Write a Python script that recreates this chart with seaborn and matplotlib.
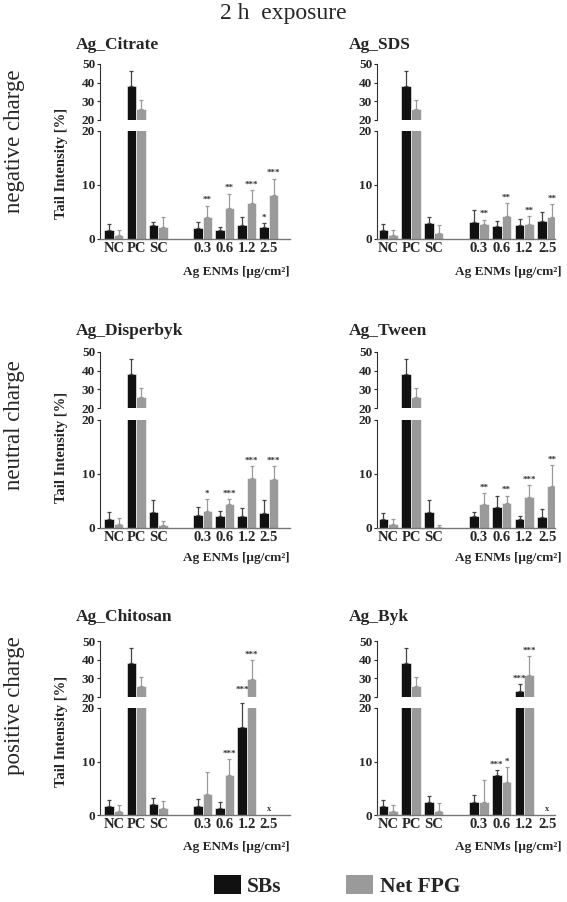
import pandas as pd
import matplotlib.pyplot as plt
import seaborn as sns
from matplotlib.patches import Patch

sns.set_style('white')
plt.rcParams['font.family'] = ['Liberation Serif', 'DejaVu Serif']
plt.rcParams['font.weight'] = 'bold'

# x slots (empty slot between controls and doses)
groups = ['NC', 'PC', 'SC', '', '0.3', '0.6', '1.2', '2.5']
doses = ['NC', 'PC', 'SC', '0.3', '0.6', '1.2', '2.5']
series = ['SBs', 'Net FPG']
colors = {'SBs': '#111111', 'Net FPG': '#9a9a9a'}
err_colors = {'SBs': '#444444', 'Net FPG': '#9a9a9a'}
row_labels = ['negative charge', 'neutral charge', 'positive charge']

# mean, upper SD and significance per dose (None = not tested)
citrate_sbs = [1.7, 38, 2.5, 2.0, 1.6, 2.6, 2.3]
citrate_sbs_sd = [1.1, 8.2, 0.6, 1.2, 0.7, 1.5, 0.6]
citrate_sbs_sig = ['', '', '', '', '', '', '*']
citrate_fpg = [0.7, 26, 2.2, 4.1, 5.7, 6.6, 8.2]
citrate_fpg_sd = [1.0, 4.7, 1.8, 2.1, 2.7, 2.5, 3.0]
citrate_fpg_sig = ['', '', '', '**', '**', '***', '***']

sds_sbs = [1.6, 38, 2.9, 3.2, 2.4, 2.5, 3.4]
sds_sbs_sd = [1.2, 8.2, 1.1, 2.1, 0.9, 1.2, 1.6]
sds_sbs_sig = ['', '', '', '', '', '', '']
sds_fpg = [0.7, 26, 1.05, 2.7, 4.3, 2.8, 4.0]
sds_fpg_sd = [1.0, 4.7, 1.55, 0.9, 2.3, 1.4, 2.5]
sds_fpg_sig = ['', '', '', '**', '**', '**', '**']

disperbyk_sbs = [1.7, 38, 2.9, 2.35, 2.2, 2.2, 2.7]
disperbyk_sbs_sd = [1.2, 8.2, 2.2, 1.45, 1.0, 1.5, 2.5]
disperbyk_sbs_sig = ['', '', '', '', '', '', '']
disperbyk_fpg = [0.7, 26, 0.55, 3.1, 4.4, 9.2, 9.1]
disperbyk_fpg_sd = [1.2, 4.7, 0.75, 2.2, 1.0, 2.3, 2.4]
disperbyk_fpg_sig = ['', '', '', '*', '***', '***', '***']

tween_sbs = [1.7, 38, 3.05, 2.2, 3.8, 1.75, 2.05]
tween_sbs_sd = [1.0, 8.2, 2.15, 0.85, 2.2, 0.55, 1.45]
tween_sbs_sig = ['', '', '', '', '', '', '']
tween_fpg = [0.75, 26, 0.2, 4.4, 4.7, 5.8, 7.8]
tween_fpg_sd = [1.0, 4.7, 0.3, 2.0, 1.3, 2.2, 3.85]
tween_fpg_sig = ['', '', '', '**', '**', '***', '**']

chitosan_sbs = [1.7, 38, 2.0, 1.7, 1.4, 16.5, None]
chitosan_sbs_sd = [1.1, 8.2, 1.2, 1.2, 0.95, 4.5, None]
chitosan_sbs_sig = ['', '', '', '', '', '***', '']
chitosan_fpg = [0.75, 26, 1.3, 3.85, 7.5, 29.8, None]
chitosan_fpg_sd = [1.05, 4.7, 1.3, 4.1, 2.9, 10.2, None]
chitosan_fpg_sig = ['', '', '', '', '***', '***', '']

byk_sbs = [1.65, 38, 2.4, 2.5, 7.45, 23.3, None]
byk_sbs_sd = [1.15, 8.2, 1.1, 1.2, 0.95, 3.7, None]
byk_sbs_sig = ['', '', '', '', '***', '***', '']
byk_fpg = [0.75, 26, 0.8, 2.45, 6.1, 31.8, None]
byk_fpg_sd = [1.05, 4.7, 1.35, 4.15, 2.9, 10.2, None]
byk_fpg_sig = ['', '', '', '', '*', '***', '']

panels = [
    ('Ag_Citrate', citrate_sbs, citrate_sbs_sd, citrate_sbs_sig, citrate_fpg, citrate_fpg_sd, citrate_fpg_sig),
    ('Ag_SDS', sds_sbs, sds_sbs_sd, sds_sbs_sig, sds_fpg, sds_fpg_sd, sds_fpg_sig),
    ('Ag_Disperbyk', disperbyk_sbs, disperbyk_sbs_sd, disperbyk_sbs_sig, disperbyk_fpg, disperbyk_fpg_sd, disperbyk_fpg_sig),
    ('Ag_Tween', tween_sbs, tween_sbs_sd, tween_sbs_sig, tween_fpg, tween_fpg_sd, tween_fpg_sig),
    ('Ag_Chitosan', chitosan_sbs, chitosan_sbs_sd, chitosan_sbs_sig, chitosan_fpg, chitosan_fpg_sd, chitosan_fpg_sig),
    ('Ag_Byk', byk_sbs, byk_sbs_sd, byk_sbs_sig, byk_fpg, byk_fpg_sd, byk_fpg_sig),
]

W, H = 567, 902
fig = plt.figure(figsize=(W / 100, H / 100), dpi=100)


def fx(px):
    return px / W


def fy(py):
    return 1 - py / H


# pixel layout
col_x = [(100, 290), (377, 555)]
col_xlim = [(-0.63, 7.95), (-0.5, 7.35)]
row_top = [(64, 120), (352, 408), (641, 697)]
row_bot = [(131, 239), (420, 528), (708, 815)]
title_y = [45, 331, 617]
title_x = [76, 349]
xlabel_y = [272, 558, 847]
xlabel_x = [290, 562]
ylabel_y = [163, 447, 731]
rowlabel_y = [141, 425, 706]

fig.text(0.5, fy(14), '2 h  exposure', ha='center', va='center', fontsize=17, fontweight='normal')

for i, (name, sbs, sbs_sd, sbs_sig, fpg, fpg_sd, fpg_sig) in enumerate(panels):
    r, c = divmod(i, 2)
    x0, x1 = col_x[c]
    t0, t1 = row_top[r]
    b0, b1 = row_bot[r]
    ax_top = fig.add_axes([fx(x0), fy(t1), fx(x1 - x0), (t1 - t0) / H])
    ax_bot = fig.add_axes([fx(x0), fy(b1), fx(x1 - x0), (b1 - b0) / H])

    rows = []
    for s, vals, sds, sigs in (('SBs', sbs, sbs_sd, sbs_sig), ('Net FPG', fpg, fpg_sd, fpg_sig)):
        for d, v, e, g in zip(doses, vals, sds, sigs):
            if v is not None:
                rows.append({'dose': d, 'series': s, 'value': v, 'sd': e, 'sig': g})
    df = pd.DataFrame(rows)

    for ax in (ax_top, ax_bot):
        sns.barplot(data=df, x='dose', y='value', hue='series', order=groups, hue_order=series,
                    palette=colors, width=0.86, errorbar=None, legend=False, ax=ax,
                    edgecolor='white', linewidth=0.4)
        ax.set_xlim(*col_xlim[c])
        ax.set_xlabel('')
        ax.set_ylabel('')
        ax.tick_params(axis='y', length=2.5, width=0.8, pad=1, labelsize=9.5, direction='out', left=True)
        for sp in ['top', 'right']:
            ax.spines[sp].set_visible(False)
        ax.spines['left'].set_color('#333333')
        ax.spines['left'].set_linewidth(0.8)

    ax_top.set_ylim(20, 50)
    ax_top.set_yticks([20, 30, 40, 50])
    ax_top.spines['bottom'].set_visible(False)
    ax_top.set_xticks([])
    ax_bot.set_ylim(0, 20)
    ax_bot.set_yticks([0, 10, 20])
    ax_bot.spines['bottom'].set_color('#777777')
    ax_bot.spines['bottom'].set_linewidth(1.0)
    ax_bot.tick_params(axis='x', length=0, labelsize=10.5, pad=2)

    # error bars + significance stars from bar geometry
    for s, cont in zip(series, ax_bot.containers):
        for bar in cont:
            cx = bar.get_x() + bar.get_width() / 2
            dose = groups[int(round(cx))]
            row = df[(df['dose'] == dose) & (df['series'] == s)].iloc[0]
            h = row['value']
            top = h + row['sd']
            ax = ax_bot if h < 20 else ax_top
            eb = ax.errorbar(cx, h, yerr=[[0], [row['sd']]], fmt='none', ecolor=err_colors[s],
                             elinewidth=0.9, capsize=1.6, capthick=0.9)
            for ch in eb.get_children():
                ch.set_clip_on(False)
            if row['sig']:
                sax = ax_bot if top < 20.5 else ax_top
                off = 0.25 if sax is ax_bot else 0.6
                sax.text(cx, top + off, row['sig'], ha='center', va='bottom', fontsize=6.5,
                         color='#333333', clip_on=False)
    for d in doses:
        if not (df['dose'] == d).any():
            ax_bot.text(groups.index(d), 0.4, 'x', ha='center', va='bottom', fontsize=6, color='#333333')

    fig.text(fx(title_x[c]), fy(title_y[r]), name, ha='left', va='center', fontsize=12.5)
    fig.text(fx(xlabel_x[c]), fy(xlabel_y[r]), 'Ag ENMs [µg/cm²]', ha='right', va='center', fontsize=9.5)

for r in range(3):
    fig.text(fx(62), fy(ylabel_y[r]), 'Tail Intensity [%]', rotation=90, ha='center', va='center', fontsize=10.5)
    fig.text(fx(15), fy(rowlabel_y[r]), row_labels[r], rotation=90, ha='center', va='center',
             fontsize=16.5, fontweight='normal')

handles = [Patch(facecolor=colors[s], edgecolor='none', label=s) for s in series]
fig.legend(handles=handles, loc='center', bbox_to_anchor=(fx(337), fy(886)), ncol=2, frameon=False,
           fontsize=15.5, handlelength=1.25, handleheight=1.0, handletextpad=0.3, columnspacing=3)

fig.savefig('out.png', dpi=100)
